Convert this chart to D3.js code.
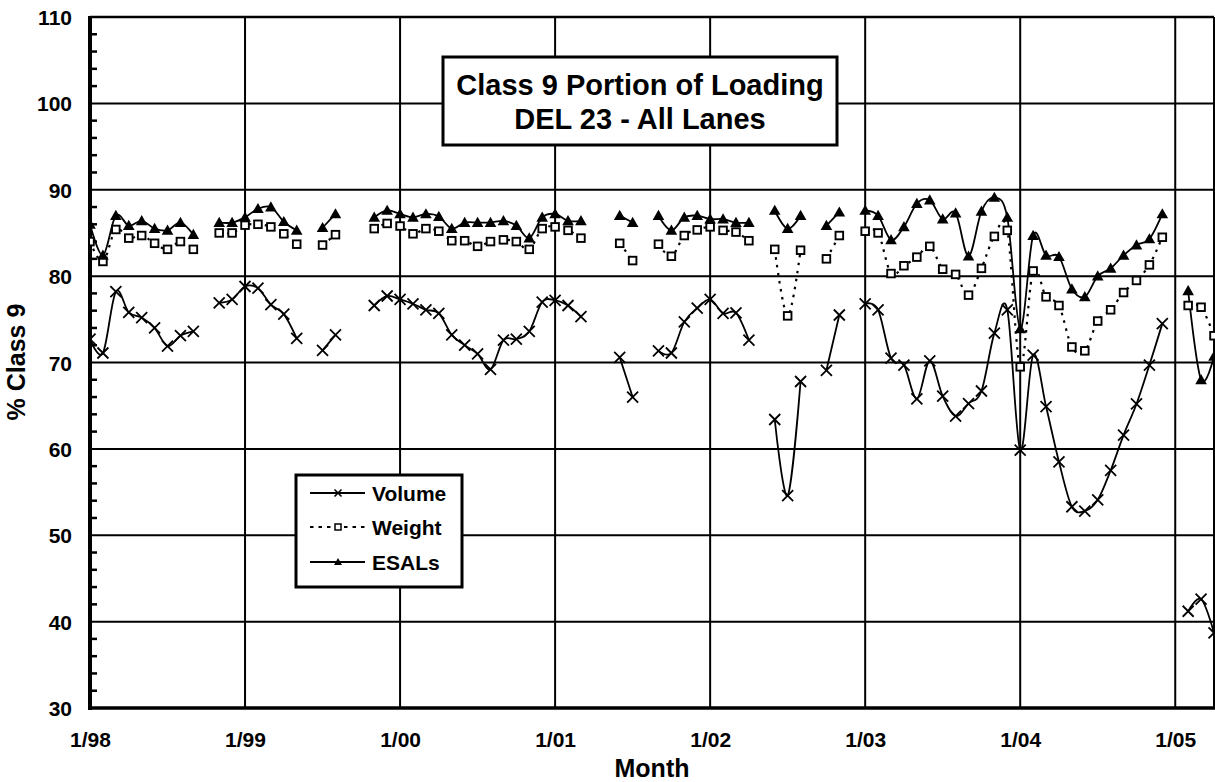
<!DOCTYPE html>
<html><head><meta charset="utf-8">
<script src="https://cdn.jsdelivr.net/npm/d3@7"></script>
<style>body{margin:0;background:#fff}svg{display:block}text{font-family:Arial,"Liberation Sans",sans-serif;font-weight:bold;fill:#000}</style>
</head><body>
<svg id="chart" width="1215" height="782"></svg>
<script>
// month index 0 = Jan 1998
const yearTickMonths = [0,12,24,36,48,60,72,84];
const yearTickLabels = ["1/98","1/99","1/00","1/01","1/02","1/03","1/04","1/05"];
const yTicks = [30,40,50,60,70,80,90,100,110];

const volume = [72.7,71.1,78.2,75.8,75.2,74.0,71.9,73.1,73.6,null,76.9,77.3,
  78.8,78.6,76.7,75.6,72.8,null,71.4,73.2,null,null,76.6,77.7,
  77.3,76.8,76.1,75.7,73.2,72.0,71.0,69.2,72.6,72.7,73.6,77.0,
  77.2,76.6,75.3,null,null,70.6,66.0,null,71.35,71.1,74.7,76.3,
  77.3,75.7,75.75,72.6,null,63.4,54.6,67.8,null,69.1,75.5,null,
  76.8,76.1,70.5,69.7,65.8,70.2,66.1,63.8,65.25,66.7,73.4,76.1,
  59.85,70.85,64.9,58.5,53.3,52.8,54.1,57.5,61.6,65.2,69.7,74.5,
  null,41.2,42.6,38.7];
const weight = [84.0,81.7,85.4,84.4,84.7,83.8,83.1,84.0,83.1,null,85.0,85.0,
  85.9,86.0,85.7,84.9,83.7,null,83.6,84.8,null,null,85.5,86.1,
  85.8,84.9,85.5,85.2,84.1,84.1,83.45,84.0,84.2,84.0,83.1,85.5,
  85.7,85.3,84.4,null,null,83.8,81.8,null,83.7,82.3,84.7,85.35,
  85.7,85.3,85.1,84.1,null,83.1,75.4,83.0,null,82.0,84.7,null,
  85.2,85.0,80.3,81.2,82.2,83.45,80.8,80.2,77.8,80.9,84.6,85.3,
  69.5,80.6,77.6,76.6,71.8,71.35,74.8,76.1,78.1,79.5,81.3,84.5,
  null,76.6,76.4,73.1];
const esals = [86.0,82.4,87.0,85.85,86.4,85.5,85.3,86.2,84.8,null,86.2,86.2,
  86.8,87.8,88.0,86.3,85.3,null,85.6,87.2,null,null,86.8,87.6,
  87.2,86.8,87.2,86.9,85.5,86.2,86.2,86.2,86.4,85.85,84.4,86.8,
  87.2,86.4,86.4,null,null,87.0,86.2,null,87.0,85.3,86.8,87.0,
  86.6,86.6,86.2,86.2,null,87.6,85.5,87.0,null,85.85,87.4,null,
  87.6,87.0,84.2,85.7,88.4,88.8,86.6,87.3,82.3,87.5,89.1,86.8,
  73.9,84.7,82.4,82.25,78.5,77.6,80.0,80.9,82.4,83.6,84.3,87.2,
  null,78.3,68.0,70.7];
const seriesNames = ["Volume","Weight","ESALs"];

const svg = d3.select("#chart");
const L = 90, R = 1214, T = 17, B = 708;
const x = d3.scaleLinear().domain([0, 87]).range([L, R]);
const y = d3.scaleLinear().domain([30, 110]).range([B, T]);

// gridlines
svg.append("g").selectAll("line").data(yTicks.filter(v => v > 30 && v < 110)).join("line")
  .attr("x1", L).attr("x2", R).attr("y1", d => y(d)).attr("y2", d => y(d))
  .attr("stroke", "#000").attr("stroke-width", 2);
svg.append("g").selectAll("line").data(yearTickMonths.slice(1)).join("line")
  .attr("x1", d => x(d)).attr("x2", d => x(d)).attr("y1", T).attr("y2", B)
  .attr("stroke", "#000").attr("stroke-width", 2);

// minor ticks on y axis (every 2)
const minor = d3.range(32, 110, 2).filter(v => v % 10 !== 0);
svg.append("g").selectAll("line").data(minor).join("line")
  .attr("x1", L).attr("x2", L + 7).attr("y1", d => y(d)).attr("y2", d => y(d))
  .attr("stroke", "#000").attr("stroke-width", 2.5);

// border
svg.append("line").attr("x1", L).attr("x2", R).attr("y1", T).attr("y2", T).attr("stroke", "#000").attr("stroke-width", 2.5);
svg.append("line").attr("x1", R).attr("x2", R).attr("y1", T).attr("y2", B).attr("stroke", "#000").attr("stroke-width", 2);

// y axis
const yAxis = d3.axisLeft(y).tickValues(yTicks).tickSize(0).tickPadding(18);
const gy = svg.append("g").attr("transform", `translate(${L},0)`).call(yAxis);
gy.select(".domain").remove();
gy.selectAll("text").style("font-size", "21px").attr("dy", "0.36em").attr("x", -18);

// x axis
const xAxis = d3.axisBottom(x).tickValues(yearTickMonths).tickFormat((d, i) => yearTickLabels[i]).tickSize(0).tickPadding(0);
const gx = svg.append("g").attr("transform", `translate(0,${B})`).call(xAxis);
gx.select(".domain").remove();
gx.selectAll("text").style("font-size", "21px").attr("dy", null).attr("y", 39);

// axis lines thick
svg.append("line").attr("x1", L).attr("x2", L).attr("y1", T - 1).attr("y2", B + 2).attr("stroke", "#000").attr("stroke-width", 4);
svg.append("line").attr("x1", L - 2).attr("x2", R + 1).attr("y1", B).attr("y2", B).attr("stroke", "#000").attr("stroke-width", 3.5);

// axis titles
svg.append("text").attr("x", (L + R) / 2).attr("y", 777).attr("text-anchor", "middle").style("font-size", "25px").text("Month");
svg.append("text").attr("transform", "translate(25,362) rotate(-90)").attr("text-anchor", "middle").style("font-size", "25px").text("% Class 9");

// data
svg.append("clipPath").attr("id", "clip").append("rect").attr("x", L).attr("y", T).attr("width", R - L + 1).attr("height", B - T);
const plot = svg.append("g").attr("clip-path", "url(#clip)");
const lineI = d3.line().defined(d => d.v != null).x(d => x(d.i)).y(d => y(d.v)).curve(d3.curveCardinal.tension(0));
function pts(arr) { return arr.map((v, i) => ({i, v})); }

plot.append("path").attr("d", lineI(pts(weight))).attr("fill", "none").attr("stroke", "#000").attr("stroke-width", 2.2).attr("stroke-dasharray", "2.5,5.5");
plot.append("path").attr("d", lineI(pts(volume))).attr("fill", "none").attr("stroke", "#000").attr("stroke-width", 1.8);
plot.append("path").attr("d", lineI(pts(esals))).attr("fill", "none").attr("stroke", "#000").attr("stroke-width", 1.8);

const xSym = s => `M${-s},${-s}L${s},${s}M${-s},${s}L${s},${-s}`;
const triSym = s => `M0,${-s}L${s},${s * 0.75}L${-s},${s * 0.75}Z`;
plot.append("g").selectAll("path").data(pts(volume).filter(d => d.v != null)).join("path")
  .attr("transform", d => `translate(${x(d.i)},${y(d.v)})`).attr("d", xSym(5.5)).attr("stroke", "#000").attr("stroke-width", 1.8).attr("fill", "none");
plot.append("g").selectAll("rect").data(pts(weight).filter(d => d.v != null)).join("rect")
  .attr("x", d => x(d.i) - 3.8).attr("y", d => y(d.v) - 3.8).attr("width", 7.6).attr("height", 7.6)
  .attr("fill", "#fff").attr("stroke", "#000").attr("stroke-width", 1.9);
plot.append("g").selectAll("path").data(pts(esals).filter(d => d.v != null)).join("path")
  .attr("transform", d => `translate(${x(d.i)},${y(d.v)})`).attr("d", triSym(5.8)).attr("fill", "#000");

// title box
svg.append("rect").attr("x", 443).attr("y", 57).attr("width", 394).attr("height", 88).attr("fill", "#fff").attr("stroke", "#000").attr("stroke-width", 3);
svg.append("text").attr("x", 640).attr("y", 95).attr("text-anchor", "middle").style("font-size", "29px").text("Class 9 Portion of Loading");
svg.append("text").attr("x", 640).attr("y", 129).attr("text-anchor", "middle").style("font-size", "29px").text("DEL 23 - All Lanes");

// legend
const lg = svg.append("g");
lg.append("rect").attr("x", 296).attr("y", 475).attr("width", 166).attr("height", 112).attr("fill", "#fff").attr("stroke", "#000").attr("stroke-width", 3);
const ly = [493, 527, 562];
seriesNames.forEach((name, k) => {
  const yy = ly[k];
  const ln = lg.append("line").attr("x1", 310).attr("x2", 365).attr("y1", yy).attr("y2", yy).attr("stroke", "#000").attr("stroke-width", k === 1 ? 2.2 : 1.8);
  if (k === 1) ln.attr("stroke-dasharray", "3.5,5");
  if (k === 0) lg.append("path").attr("transform", `translate(338,${yy})`).attr("d", xSym(3.5)).attr("stroke", "#000").attr("stroke-width", 1.6);
  if (k === 1) lg.append("rect").attr("x", 335).attr("y", yy - 3).attr("width", 6).attr("height", 6).attr("fill", "#fff").attr("stroke", "#000").attr("stroke-width", 1.5);
  if (k === 2) lg.append("path").attr("transform", `translate(338,${yy})`).attr("d", triSym(4)).attr("fill", "#000");
  lg.append("text").attr("x", 372).attr("y", yy + 8).style("font-size", "21px").text(name);
});
</script>
</body></html>
